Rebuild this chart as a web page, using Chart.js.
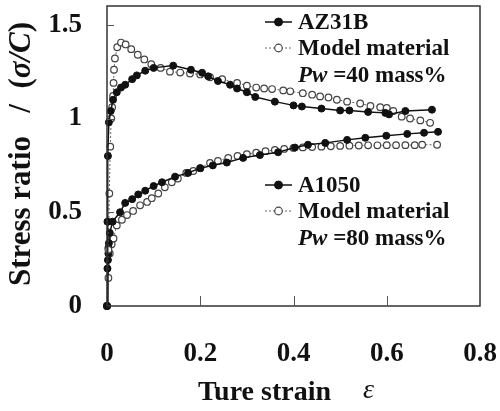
<!DOCTYPE html>
<html>
<head>
<meta charset="utf-8">
<script src="https://cdn.jsdelivr.net/npm/chart.js@4"></script>
<style>
  html, body { margin: 0; padding: 0; background: #fff; }
  #wrap { width: 500px; height: 411px; }
</style>
</head>
<body>
<div id="wrap"><canvas id="c" width="500" height="411"></canvas></div>
<script>
// x ticks / y ticks
const xTicks = [0, 0.2, 0.4, 0.6, 0.8];
const yTicks = [0, 0.5, 1, 1.5];

// AZ31B (filled)
const az31bX = [0, 0.001, 0.002, 0.004, 0.008, 0.013, 0.021, 0.03, 0.039, 0.054, 0.064, 0.082, 0.1, 0.142, 0.18, 0.204, 0.217, 0.238, 0.264, 0.279, 0.3, 0.318, 0.36, 0.4, 0.418, 0.46, 0.5, 0.52, 0.56, 0.597, 0.605, 0.64, 0.697];
const az31bY = [0, 0.45, 0.8, 0.98, 1.04, 1.1, 1.14, 1.165, 1.18, 1.21, 1.23, 1.255, 1.27, 1.282, 1.26, 1.244, 1.225, 1.2, 1.18, 1.16, 1.14, 1.115, 1.09, 1.07, 1.064, 1.053, 1.043, 1.043, 1.035, 1.03, 1.022, 1.04, 1.047];

// Model material, Pw = 40 mass% (open)
const model40X = [0, 0.003, 0.005, 0.007, 0.009, 0.011, 0.013, 0.014, 0.015, 0.017, 0.022, 0.03, 0.04, 0.052, 0.066, 0.08, 0.095, 0.115, 0.135, 0.157, 0.178, 0.2, 0.221, 0.247, 0.279, 0.3, 0.32, 0.337, 0.354, 0.378, 0.393, 0.42, 0.44, 0.457, 0.475, 0.493, 0.515, 0.543, 0.565, 0.586, 0.6, 0.614, 0.632, 0.65, 0.672, 0.693];
const model40Y = [0, 0.3, 0.6, 0.85, 1.0, 1.06, 1.12, 1.19, 1.26, 1.32, 1.38, 1.405, 1.395, 1.37, 1.34, 1.315, 1.29, 1.27, 1.25, 1.245, 1.24, 1.235, 1.22, 1.21, 1.19, 1.175, 1.165, 1.16, 1.157, 1.15, 1.145, 1.135, 1.127, 1.118, 1.112, 1.1, 1.09, 1.08, 1.067, 1.06, 1.056, 1.04, 1.01, 1.0, 0.99, 0.977];

// A1050 (filled)
const a1050X = [0, 0.001, 0.002, 0.003, 0.003, 0.004, 0.006, 0.012, 0.028, 0.039, 0.054, 0.067, 0.082, 0.1, 0.118, 0.146, 0.174, 0.2, 0.227, 0.257, 0.292, 0.328, 0.367, 0.403, 0.431, 0.468, 0.515, 0.554, 0.599, 0.644, 0.68, 0.71];
const a1050Y = [0, 0.2, 0.245, 0.28, 0.31, 0.335, 0.39, 0.45, 0.5, 0.55, 0.57, 0.595, 0.615, 0.64, 0.66, 0.69, 0.71, 0.735, 0.75, 0.765, 0.79, 0.805, 0.82, 0.845, 0.86, 0.87, 0.886, 0.897, 0.908, 0.918, 0.924, 0.929];

// Model material, Pw = 80 mass% (open)
const model80X = [0, 0.003, 0.006, 0.01, 0.014, 0.021, 0.032, 0.043, 0.056, 0.071, 0.086, 0.096, 0.11, 0.124, 0.139, 0.152, 0.17, 0.185, 0.2, 0.221, 0.238, 0.26, 0.28, 0.3, 0.32, 0.34, 0.36, 0.38, 0.4, 0.42, 0.44, 0.46, 0.48, 0.5, 0.52, 0.54, 0.56, 0.58, 0.6, 0.62, 0.64, 0.66, 0.676, 0.708];
const model80Y = [0, 0.15, 0.28, 0.33, 0.36, 0.43, 0.46, 0.485, 0.507, 0.537, 0.555, 0.575, 0.6, 0.633, 0.66, 0.68, 0.71, 0.72, 0.735, 0.763, 0.774, 0.79, 0.8, 0.81, 0.818, 0.826, 0.832, 0.838, 0.843, 0.846, 0.848, 0.85, 0.852, 0.854, 0.855, 0.856, 0.857, 0.857, 0.858, 0.858, 0.858, 0.858, 0.86, 0.86];

const SERIF = '"Liberation Serif", "Times New Roman", serif';
const INK = '#111';

const pts = (xs, ys) => xs.map((x, i) => ({ x, y: ys[i] }));

const filledSet = (label, xs, ys) => ({
  label, data: pts(xs, ys), showLine: true,
  borderColor: INK, borderWidth: 1.5, backgroundColor: INK,
  pointRadius: 3.5, pointBackgroundColor: INK, pointBorderColor: INK, pointBorderWidth: 1,
  clip: 8,
});
const openSet = (label, xs, ys) => ({
  label, data: pts(xs, ys), showLine: true,
  borderColor: '#666', borderWidth: 1, borderDash: [2, 2], backgroundColor: '#fff',
  pointRadius: 3.3, pointBackgroundColor: '#fff', pointBorderColor: '#444', pointBorderWidth: 1.2,
  clip: 8,
});

const noPad = s => { s.paddingTop = 0; s.paddingBottom = 0; s.paddingLeft = 0; s.paddingRight = 0; };

// frame, inward ticks, legends and axis titles
const decor = {
  id: 'decor',
  afterDraw(chart) {
    const { ctx, chartArea: a, scales: { x, y } } = chart;
    ctx.save();
    ctx.strokeStyle = '#333';
    ctx.lineWidth = 1.5;
    ctx.strokeRect(a.left, a.top, a.right - a.left, a.bottom - a.top);
    ctx.lineWidth = 1;
    ctx.strokeStyle = '#555';
    ctx.beginPath();
    xTicks.slice(1, -1).forEach(v => {
      const px = Math.round(x.getPixelForValue(v)) + 0.5;
      ctx.moveTo(px, a.bottom); ctx.lineTo(px, a.bottom - 10);
    });
    yTicks.slice(1).forEach(v => {
      const py = Math.round(y.getPixelForValue(v)) + 0.5;
      ctx.moveTo(a.left, py); ctx.lineTo(a.left + 7, py);
    });
    ctx.stroke();

    // legends
    const legend = (top, name, pw, sets) => {
      const lx = a.left + 158, tx = a.left + 191;
      ctx.textBaseline = 'middle';
      ctx.textAlign = 'left';
      const rows = [[name, sets[0]], ['Model material', sets[1]]];
      rows.forEach(([txt, ds], i) => {
        const ry = top + i * 26;
        ctx.save();
        ctx.strokeStyle = ds.borderColor;
        ctx.lineWidth = ds.borderWidth;
        ctx.setLineDash(ds.borderDash || []);
        ctx.beginPath(); ctx.moveTo(lx, ry); ctx.lineTo(lx + 27, ry); ctx.stroke();
        ctx.setLineDash([]);
        ctx.beginPath(); ctx.arc(lx + 13.5, ry, ds.pointRadius + 0.5, 0, Math.PI * 2);
        ctx.fillStyle = ds.pointBackgroundColor; ctx.fill();
        ctx.lineWidth = ds.pointBorderWidth; ctx.strokeStyle = ds.pointBorderColor; ctx.stroke();
        ctx.restore();
        ctx.fillStyle = INK;
        ctx.font = 'bold 23px ' + SERIF;
        ctx.fillText(txt, tx, ry + 1);
      });
      const ry = top + 54;
      ctx.font = 'italic bold 23px ' + SERIF;
      ctx.fillText('Pw', tx, ry);
      const w = ctx.measureText('Pw ').width;
      ctx.font = 'bold 23px ' + SERIF;
      ctx.fillText('=' + pw + ' mass%', tx + w, ry);
    };
    const ds = chart.data.datasets;
    legend(a.top + 16, 'AZ31B', 40, [ds[0], ds[1]]);
    legend(a.top + 179, 'A1050', 80, [ds[2], ds[3]]);

    // x title
    ctx.fillStyle = INK;
    ctx.textBaseline = 'middle';
    ctx.textAlign = 'left';
    ctx.font = 'bold 28px ' + SERIF;
    ctx.fillText('Ture strain', a.left + 91, 393);
    ctx.font = 'italic 28px ' + SERIF;
    ctx.fillText('\u03b5', a.left + 256, 391);

    // y title (rotated)
    ctx.save();
    ctx.translate(22, 154);
    ctx.rotate(-Math.PI / 2);
    const parts = [['bold 31px ', 'Stress ratio   /  ('], ['italic bold 31px ', '\u03c3/C'], ['bold 31px ', ')']];
    let total = 0;
    parts.forEach(([f, t]) => { ctx.font = f + SERIF; total += ctx.measureText(t).width; });
    let cx = -total / 2;
    parts.forEach(([f, t]) => {
      ctx.font = f + SERIF;
      ctx.fillText(t, cx, 0);
      cx += ctx.measureText(t).width;
    });
    ctx.restore();
    ctx.restore();
  }
};

new Chart(document.getElementById('c'), {
  type: 'scatter',
  data: {
    datasets: [
      filledSet('AZ31B', az31bX, az31bY),
      openSet('Model material Pw=40 mass%', model40X, model40Y),
      filledSet('A1050', a1050X, a1050Y),
      openSet('Model material Pw=80 mass%', model80X, model80Y),
    ],
  },
  options: {
    responsive: false,
    animation: false,
    devicePixelRatio: 1,
    layout: { padding: { top: 6, right: 20, left: 0, bottom: 0 } },
    plugins: { legend: { display: false }, tooltip: { enabled: false } },
    scales: {
      x: {
        type: 'linear', min: 0, max: 0.8,
        grid: { display: false, drawTicks: false },
        border: { display: false },
        afterBuildTicks: s => { s.ticks = xTicks.map(v => ({ value: v })); },
        afterFit: s => { s.height = 105; noPad(s); },
        ticks: {
          padding: 32, color: INK, maxRotation: 0,
          font: { family: SERIF, size: 27, weight: 'bold' },
          callback: v => String(v),
        },
      },
      y: {
        type: 'linear', min: 0, max: 1.6,
        grid: { display: false, drawTicks: false },
        border: { display: false },
        afterBuildTicks: s => { s.ticks = yTicks.map(v => ({ value: v })); },
        afterFit: s => { s.width = 107; noPad(s); },
        ticks: {
          padding: 25, color: INK,
          font: { family: SERIF, size: 27, weight: 'bold' },
          callback: v => String(v),
        },
      },
    },
  },
  plugins: [decor],
});
</script>
</body>
</html>
